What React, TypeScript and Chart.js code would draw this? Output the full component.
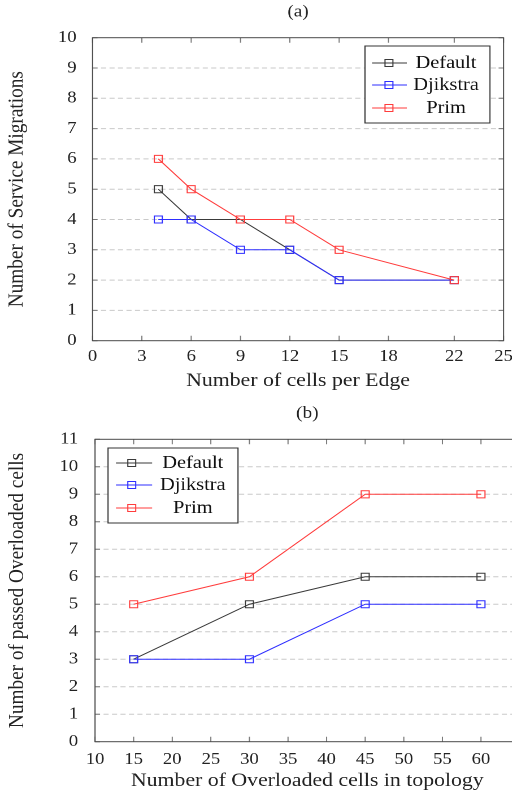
import React, { useEffect, useRef } from "react";
import { Chart, registerables } from "chart.js";
Chart.register(...registerables);

const SX = 1.13;
const FONT = "'Liberation Serif', 'Times New Roman', serif";

// ---- chart (a) data ----
const A_X = [4, 6, 9, 12, 15, 22];
const A_DEFAULT = [5, 4, 4, 3, 2, 2];
const A_DJIKSTRA = [4, 4, 3, 3, 2, 2];
const A_PRIM = [6, 5, 4, 4, 3, 2];
const A_XTICKS = [0, 3, 6, 9, 12, 15, 18, 22, 25];
const A_YTICKS = [0, 1, 2, 3, 4, 5, 6, 7, 8, 9, 10];

// ---- chart (b) data ----
const B_X = [15, 30, 45, 60];
const B_DEFAULT = [3, 5, 6, 6];
const B_DJIKSTRA = [3, 3, 5, 5];
const B_PRIM = [5, 6, 9, 9];
const B_XTICKS = [10, 15, 20, 25, 30, 35, 40, 45, 50, 55, 60];
const B_YTICKS = [0, 1, 2, 3, 4, 5, 6, 7, 8, 9, 10, 11];

const SERIES_NAMES = ["Default", "Djikstra", "Prim"];
const SERIES_COLORS = ["#3a3a3a", "#2e2eff", "#ff3c3c"];

type Spec = {
  width: number;
  height: number;
  subtitle: string;
  subtitleY: number;
  xs: number[];
  series: number[][];
  xTicks: number[];
  yTicks: number[];
  xMin: number;
  xMax: number;
  yMin: number;
  yMax: number;
  xTitle: string;
  yTitle: string;
  yWidth: number;
  xHeight: number;
  padTop: number;
  padRight: number;
  xTitlePad: number;
  yTitlePad: number;
  yTickPad: number;
  xTickPad: number;
  legend: {
    anchor: "left" | "right";
    dx: number;
    dy: number;
    w: number;
    h: number;
    rows: number[];
    lineFrom: number;
    lineTo: number;
    marker: number;
    textCenter: number;
  };
};

const SPEC_A: Spec = {
  width: 453,
  height: 400,
  subtitle: "(a)",
  subtitleY: 12,
  xs: A_X,
  series: [A_DEFAULT, A_DJIKSTRA, A_PRIM],
  xTicks: A_XTICKS,
  yTicks: A_YTICKS,
  xMin: 0,
  xMax: 25,
  yMin: 0,
  yMax: 10,
  xTitle: "Number of cells per Edge",
  yTitle: "Number of Service Migrations",
  yWidth: 81.9,
  xHeight: 59.3,
  padTop: 37.7,
  padRight: 7.4,
  xTitlePad: 7.4,
  yTitlePad: 3.4,
  yTickPad: 6.2,
  xTickPad: -2,
  legend: {
    anchor: "right",
    dx: 12,
    dy: 8.3,
    w: 110.6,
    h: 77,
    rows: [17, 39, 62],
    lineFrom: 6.2,
    lineTo: 37,
    marker: 21.2,
    textCenter: 71.7,
  },
};

const SPEC_B: Spec = {
  width: 470,
  height: 397,
  subtitle: "(b)",
  subtitleY: 13.5,
  xs: B_X,
  series: [B_DEFAULT, B_DJIKSTRA, B_PRIM],
  xTicks: B_XTICKS,
  yTicks: B_YTICKS,
  xMin: 10,
  xMax: 65,
  yMin: 0,
  yMax: 11,
  xTitle: "Number of Overloaded cells in topology",
  yTitle: "Number of passed Overloaded cells",
  yWidth: 84.1,
  xHeight: 55.3,
  padTop: 39.3,
  padRight: 10.2,
  xTitlePad: 4.4,
  yTitlePad: 3.9,
  yTickPad: 7,
  xTickPad: 0,
  legend: {
    anchor: "left",
    dx: 11.5,
    dy: 8.7,
    w: 115,
    h: 75,
    rows: [15, 37, 60],
    lineFrom: 7,
    lineTo: 39,
    marker: 21,
    textCenter: 75,
  },
};

function buildConfig(spec: Spec): any {
  const tickFont = { family: FONT, size: 16.5 };
  const titleFont = { family: FONT, size: 19.3 };

  const framePlugin = {
    id: "frame",
    beforeDatasetsDraw(chart: any) {
      const { ctx, chartArea } = chart;
      const xs = chart.scales.x;
      const ys = chart.scales.y;
      ctx.save();
      // dashed horizontal grid
      ctx.strokeStyle = "#c9c9c9";
      ctx.lineWidth = 1;
      ctx.setLineDash([4.5, 3]);
      spec.yTicks.forEach((v) => {
        if (v <= spec.yMin || v >= spec.yMax) return;
        const y = ys.getPixelForValue(v);
        ctx.beginPath();
        ctx.moveTo(chartArea.left, y);
        ctx.lineTo(chartArea.right, y);
        ctx.stroke();
      });
      ctx.setLineDash([]);
      // tick marks
      ctx.strokeStyle = "#7a7a7a";
      spec.xTicks.forEach((v) => {
        const x = xs.getPixelForValue(v);
        ctx.beginPath();
        ctx.moveTo(x, chartArea.bottom);
        ctx.lineTo(x, chartArea.bottom - 5);
        ctx.moveTo(x, chartArea.top);
        ctx.lineTo(x, chartArea.top + 5);
        ctx.stroke();
      });
      spec.yTicks.forEach((v) => {
        const y = ys.getPixelForValue(v);
        ctx.beginPath();
        ctx.moveTo(chartArea.left, y);
        ctx.lineTo(chartArea.left + 4.4, y);
        ctx.moveTo(chartArea.right, y);
        ctx.lineTo(chartArea.right - 4.4, y);
        ctx.stroke();
      });
      // frame
      ctx.strokeStyle = "#4a4a4a";
      ctx.lineWidth = 1;
      ctx.strokeRect(
        chartArea.left,
        chartArea.top,
        chartArea.right - chartArea.left,
        chartArea.bottom - chartArea.top
      );
      // subtitle
      ctx.fillStyle = "#222";
      ctx.font = `17px ${FONT}`;
      ctx.textAlign = "center";
      ctx.textBaseline = "middle";
      ctx.fillText(spec.subtitle, (chartArea.left + chartArea.right) / 2, spec.subtitleY);
      ctx.restore();
    },
  };

  const legendPlugin = {
    id: "boxLegend",
    afterDatasetsDraw(chart: any) {
      const { ctx, chartArea } = chart;
      const L = spec.legend;
      const left =
        L.anchor === "right" ? chartArea.right - L.dx - L.w : chartArea.left + L.dx;
      const top = chartArea.top + L.dy;
      ctx.save();
      ctx.fillStyle = "#ffffff";
      ctx.fillRect(left, top, L.w, L.h);
      ctx.strokeStyle = "#333";
      ctx.lineWidth = 1;
      ctx.strokeRect(left, top, L.w, L.h);
      SERIES_NAMES.forEach((name, i) => {
        const y = top + L.rows[i];
        ctx.strokeStyle = SERIES_COLORS[i];
        ctx.lineWidth = 1;
        ctx.beginPath();
        ctx.moveTo(left + L.lineFrom, y);
        ctx.lineTo(left + L.lineTo, y);
        ctx.stroke();
        const s = 3.5;
        ctx.strokeRect(left + L.marker - s, y - s, 2 * s, 2 * s);
        ctx.fillStyle = "#111";
        ctx.font = `18px ${FONT}`;
        ctx.textAlign = "center";
        ctx.textBaseline = "middle";
        ctx.fillText(name, left + L.textCenter, y + 0.5);
      });
      ctx.restore();
    },
  };

  const datasets = spec.series.map((vals, i) => ({
    label: SERIES_NAMES[i],
    data: spec.xs.map((x, j) => ({ x, y: vals[j] })),
    borderColor: SERIES_COLORS[i],
    backgroundColor: "rgba(0,0,0,0)",
    borderWidth: 1,
    pointStyle: "rect",
    pointRadius: 5,
    pointBorderWidth: 1,
    pointBorderColor: SERIES_COLORS[i],
    pointBackgroundColor: "rgba(0,0,0,0)",
    tension: 0,
    fill: false,
    order: 3 - i,
  }));

  return {
    type: "line",
    data: { datasets },
    options: {
      animation: false,
      responsive: false,
      devicePixelRatio: 2,
      layout: {
        padding: { top: spec.padTop, right: spec.padRight, left: 0, bottom: 0 },
      },
      plugins: {
        legend: { display: false },
        tooltip: { enabled: false },
        title: { display: false },
      },
      scales: {
        x: {
          type: "linear",
          min: spec.xMin,
          max: spec.xMax,
          grid: { display: false },
          border: { display: false },
          ticks: {
            font: tickFont,
            color: "#222",
            padding: spec.xTickPad,
            autoSkip: false,
            maxRotation: 0,
            minRotation: 0,
            callback: (v: any) => String(v),
          },
          afterBuildTicks: (scale: any) => {
            scale.ticks = spec.xTicks.map((v) => ({ value: v }));
          },
          afterFit: (scale: any) => {
            scale.height = spec.xHeight;
            scale.paddingLeft = 0;
            scale.paddingRight = 0;
          },
          title: {
            display: true,
            text: spec.xTitle,
            font: titleFont,
            color: "#222",
            padding: { top: 0, bottom: spec.xTitlePad },
          },
        },
        y: {
          type: "linear",
          min: spec.yMin,
          max: spec.yMax,
          grid: { display: false },
          border: { display: false },
          ticks: {
            font: tickFont,
            color: "#222",
            padding: spec.yTickPad,
            autoSkip: false,
            callback: (v: any) => String(v),
          },
          afterBuildTicks: (scale: any) => {
            scale.ticks = spec.yTicks.map((v) => ({ value: v }));
          },
          afterFit: (scale: any) => {
            scale.width = spec.yWidth;
            scale.paddingTop = 0;
            scale.paddingBottom = 0;
          },
          title: {
            display: true,
            text: spec.yTitle,
            font: titleFont,
            color: "#222",
            padding: { top: spec.yTitlePad, bottom: 0 },
          },
        },
      },
    },
    plugins: [framePlugin, legendPlugin],
  };
}

function LineChart({ spec, top }: { spec: Spec; top: number }) {
  const ref = useRef<HTMLCanvasElement | null>(null);
  useEffect(() => {
    if (!ref.current) return;
    const chart = new Chart(ref.current, buildConfig(spec));
    return () => chart.destroy();
  }, [spec]);
  return (
    <div
      style={{
        position: "absolute",
        left: 0,
        top,
        width: spec.width,
        height: spec.height,
        transform: `scaleX(${SX})`,
        transformOrigin: "0 0",
      }}
    >
      <canvas ref={ref} width={spec.width} height={spec.height} />
    </div>
  );
}

export default function App() {
  return (
    <div
      style={{
        position: "absolute",
        left: 0,
        top: 0,
        width: 512,
        height: 797,
        overflow: "hidden",
        background: "#ffffff",
      }}
    >
      <LineChart spec={SPEC_A} top={0} />
      <LineChart spec={SPEC_B} top={400} />
    </div>
  );
}
